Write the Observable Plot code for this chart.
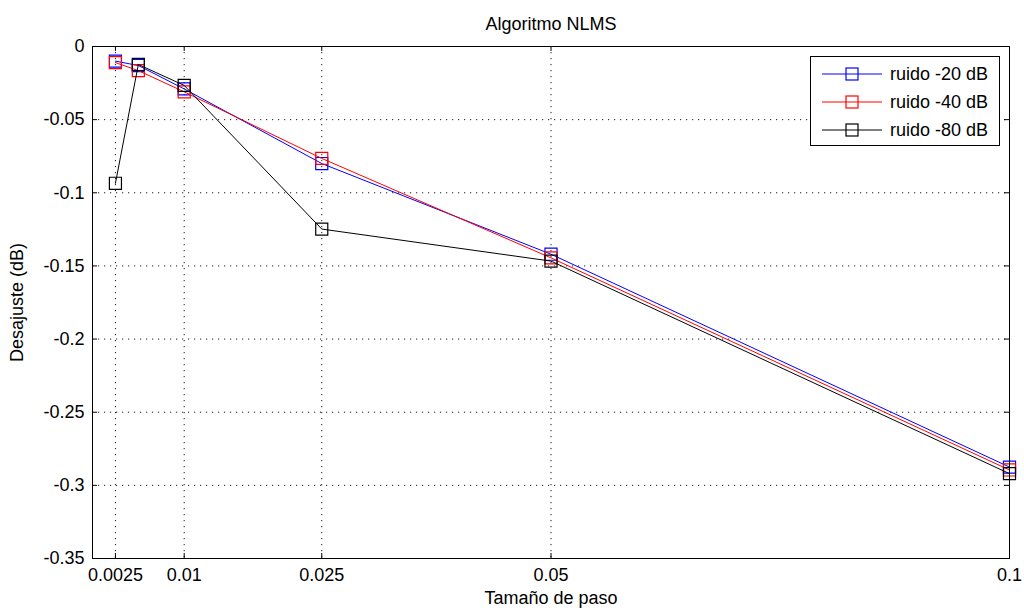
<!DOCTYPE html>
<html><head><meta charset="utf-8">
<script src="https://cdn.jsdelivr.net/npm/d3@7"></script>
<script src="https://cdn.jsdelivr.net/npm/@observablehq/plot@0.6"></script>
<style>
body{margin:0;background:#fff;}
#wrap{position:relative;width:1024px;height:610px;font-family:"Liberation Sans",Arial,sans-serif;}
#legend{position:absolute;left:810px;top:56px;width:190px;height:90px;border:1px solid #000;background:#fff;box-sizing:border-box;}
.row{position:absolute;left:11px;height:20px;display:flex;align-items:center;font-size:18px;color:#000;white-space:nowrap;}
.row svg{margin-right:6px;}
</style></head><body><div id="wrap"></div>
<script>
const steps = [0.0025, 0.005, 0.01, 0.025, 0.05, 0.1];
const seriesNames = ["ruido -20 dB", "ruido -40 dB", "ruido -80 dB"];
const seriesColors = ["#0000ff", "#ff0000", "#000000"];
const ruido20 = [-0.010, -0.013, -0.029, -0.080, -0.142, -0.2875];
const ruido40 = [-0.011, -0.0165, -0.031, -0.0765, -0.1445, -0.2895];
const ruido80 = [-0.0935, -0.0123, -0.0266, -0.1248, -0.1467, -0.292];
const xTicks = [0.0025, 0.01, 0.025, 0.05, 0.1];
const xTickLabels = ["0.0025", "0.01", "0.025", "0.05", "0.1"];
const yTicks = [0, -0.05, -0.1, -0.15, -0.2, -0.25, -0.3, -0.35];
const yTickLabels = ["0", "-0.05", "-0.1", "-0.15", "-0.2", "-0.25", "-0.3", "-0.35"];
const titleText = "Algoritmo NLMS";
const xLabel = "Tamaño de paso";
const yLabel = "Desajuste (dB)";

const W = 1024, Hgt = 610;
const mL = 92, mR = 15, mT = 46, mB = 52;
const fw = W - mL - mR, fh = Hgt - mT - mB;
const tick = 5;

const allSeries = [ruido20, ruido40, ruido80];
const rows = [];
allSeries.forEach((vals, s) => vals.forEach((v, i) => rows.push({series: seriesNames[s], x: steps[i], y: v})));

const seriesMarks = seriesNames.flatMap(name => {
  const d = rows.filter(r => r.series === name);
  return [
    Plot.line(d, {x: "x", y: "y", stroke: "series", strokeWidth: 1}),
    Plot.dot(d, {x: "x", y: "y", stroke: "series", symbol: "square", r: 6.8, strokeWidth: 1.2, fill: "none"})
  ];
});

const chart = Plot.plot({
  width: W, height: Hgt,
  marginLeft: mL, marginRight: mR, marginTop: mT, marginBottom: mB,
  style: {fontFamily: '"Liberation Sans", Arial, sans-serif', fontSize: "18px", color: "#000", background: "#fff"},
  x: {domain: [0, 0.1]},
  y: {domain: [-0.35, 0]},
  color: {domain: seriesNames, range: seriesColors},
  marks: [
    Plot.gridX(xTicks, {stroke: "#000", strokeOpacity: 0.9, strokeDasharray: "1.2,4.8"}),
    Plot.gridY(yTicks, {stroke: "#000", strokeOpacity: 0.9, strokeDasharray: "1.2,4.8"}),
    Plot.ruleX(xTicks, {stroke: "#000", insetTop: fh - tick}),
    Plot.ruleX(xTicks, {stroke: "#000", insetBottom: fh - tick}),
    Plot.ruleY(yTicks, {stroke: "#000", insetLeft: fw - tick}),
    Plot.ruleY(yTicks, {stroke: "#000", insetRight: fw - tick}),
    ...seriesMarks,
    Plot.frame({stroke: "#000", strokeWidth: 1}),
    Plot.axisX(xTicks, {tickSize: 0, tickPadding: 10, fontSize: 18,
      tickFormat: d => xTickLabels[xTicks.indexOf(d)],
      label: xLabel, labelAnchor: "center", labelArrow: "none", labelOffset: 45}),
    Plot.axisY(yTicks, {tickSize: 0, tickPadding: 8, fontSize: 18,
      tickFormat: d => yTickLabels[yTicks.indexOf(d)],
      label: yLabel, labelAnchor: "center", labelArrow: "none", labelOffset: 82}),
    Plot.text([titleText], {frameAnchor: "top", dy: -29, fontSize: 18, fill: "#000"})
  ]
});

const wrap = document.getElementById("wrap");
wrap.appendChild(chart);

const legend = document.createElement("div");
legend.id = "legend";
seriesNames.forEach((name, i) => {
  const row = document.createElement("div");
  row.className = "row";
  row.style.top = (7 + i * 28) + "px";
  const c = seriesColors[i];
  row.innerHTML = `<svg width="62" height="14"><line x1="0" y1="7" x2="60" y2="7" stroke="${c}" stroke-width="1"/><rect x="24" y="1" width="12" height="12" fill="none" stroke="${c}" stroke-width="1.2"/></svg><span></span>`;
  row.querySelector("span").textContent = name;
  legend.appendChild(row);
});
wrap.appendChild(legend);
</script>
</body></html>
